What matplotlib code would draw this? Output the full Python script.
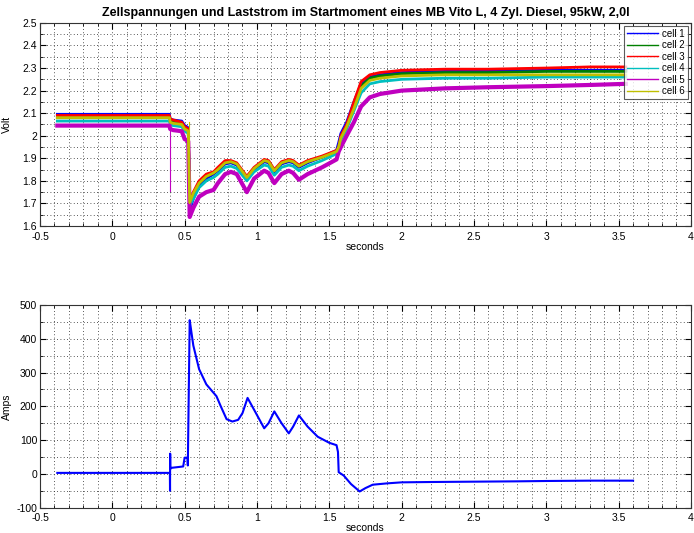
import numpy as np
import matplotlib.pyplot as plt
from matplotlib.ticker import MultipleLocator, FormatStrFormatter

plt.rcParams['font.family'] = ['Liberation Sans', 'DejaVu Sans']
plt.rcParams['axes.unicode_minus'] = False

# time points for the cell voltages (seconds)
t_v = [-0.38, 0.395, 0.40, 0.42, 0.48, 0.50, 0.515, 0.525, 0.535, 0.56, 0.60, 0.65,
       0.70, 0.73, 0.78, 0.82, 0.86, 0.93, 0.98, 1.05, 1.08, 1.12, 1.17, 1.22, 1.25,
       1.29, 1.35, 1.45, 1.55, 1.565, 1.58, 1.62, 1.67, 1.72, 1.78, 1.85, 2.0, 2.3,
       2.6, 3.0, 3.3, 3.55]

cell1 = [2.095, 2.095, 2.075, 2.07, 2.065, 2.045, 2.04, 2.035, 1.67, 1.72, 1.78, 1.81,
         1.83, 1.845, 1.875, 1.88, 1.87, 1.815, 1.85, 1.885, 1.88, 1.84, 1.875, 1.885, 1.88,
         1.86, 1.88, 1.905, 1.935, 1.97, 2.01, 2.06, 2.15, 2.23, 2.26, 2.27, 2.28, 2.285,
         2.285, 2.29, 2.29, 2.29]
cell2 = [2.08, 2.08, 2.065, 2.06, 2.055, 2.035, 2.03, 2.025, 1.70, 1.74, 1.79, 1.82,
         1.835, 1.85, 1.88, 1.885, 1.875, 1.815, 1.855, 1.89, 1.885, 1.845, 1.88, 1.89, 1.885,
         1.865, 1.885, 1.905, 1.93, 1.95, 1.99, 2.04, 2.13, 2.22, 2.255, 2.265, 2.275, 2.28,
         2.28, 2.285, 2.285, 2.285]
cell3 = [2.09, 2.09, 2.075, 2.07, 2.06, 2.04, 2.035, 2.03, 1.71, 1.75, 1.80, 1.83,
         1.84, 1.86, 1.89, 1.89, 1.88, 1.82, 1.86, 1.895, 1.89, 1.85, 1.885, 1.895, 1.89,
         1.87, 1.89, 1.91, 1.935, 1.95, 2.0, 2.05, 2.15, 2.24, 2.27, 2.28, 2.29, 2.295,
         2.295, 2.30, 2.305, 2.305]
cell4 = [2.065, 2.065, 2.05, 2.045, 2.04, 2.02, 2.015, 2.01, 1.69, 1.72, 1.77, 1.80,
         1.815, 1.83, 1.86, 1.865, 1.855, 1.80, 1.84, 1.87, 1.865, 1.825, 1.86, 1.87, 1.865,
         1.845, 1.865, 1.89, 1.92, 1.94, 1.98, 2.03, 2.11, 2.19, 2.23, 2.24, 2.25, 2.255,
         2.255, 2.26, 2.26, 2.26]
cell5 = [2.045, 2.045, 2.03, 2.025, 2.02, 1.985, 1.98, 1.975, 1.64, 1.68, 1.73, 1.75,
         1.76, 1.79, 1.83, 1.84, 1.83, 1.75, 1.81, 1.845, 1.835, 1.79, 1.83, 1.845, 1.835,
         1.805, 1.83, 1.86, 1.895, 1.93, 1.95, 2.0, 2.06, 2.13, 2.17, 2.185, 2.20, 2.21,
         2.215, 2.22, 2.225, 2.23]
cell6 = [2.08, 2.08, 2.06, 2.055, 2.05, 2.03, 2.025, 2.02, 1.705, 1.745, 1.79, 1.82,
         1.835, 1.85, 1.88, 1.885, 1.875, 1.815, 1.855, 1.89, 1.885, 1.845, 1.88, 1.89, 1.885,
         1.865, 1.885, 1.905, 1.93, 1.95, 1.99, 2.04, 2.12, 2.21, 2.245, 2.255, 2.265, 2.27,
         2.27, 2.27, 2.27, 2.27]

cells = [cell1, cell2, cell3, cell4, cell5, cell6]
cell_names = ['cell 1', 'cell 2', 'cell 3', 'cell 4', 'cell 5', 'cell 6']
cell_colors = ['#0000ff', '#008000', '#ff0000', '#00bfbf', '#bf00bf', '#bfbf00']

# single-sample spikes: time, low, high
spike5 = (0.398, 1.755, 2.03)
spike6 = (0.528, 1.70, 2.06)

# load current
t_i = [-0.38, 0.398, 0.399, 0.400, 0.401, 0.41, 0.45, 0.49, 0.50, 0.52, 0.522, 0.535,
       0.54, 0.56, 0.60, 0.65, 0.68, 0.72, 0.75, 0.79, 0.83, 0.87, 0.90, 0.935, 0.98,
       1.05, 1.08, 1.12, 1.17, 1.22, 1.25, 1.29, 1.35, 1.42, 1.50, 1.55, 1.56, 1.565,
       1.60, 1.65, 1.71, 1.75, 1.80, 1.90, 2.0, 2.2, 2.5, 2.8, 3.0, 3.3, 3.6]
amps = [3, 3, -50, 60, 15, 18, 20, 22, 48, 48, 25, 455,
        440, 380, 310, 265, 250, 230, 200, 162, 155, 160, 180, 225, 190,
        135, 150, 185, 150, 120, 140, 173, 140, 110, 92, 85, 65, 5,
        -5, -30, -52, -42, -32, -28, -25, -24, -23, -22, -21, -20, -20]


def style_axes(ax, major_y, minor_y):
    ax.xaxis.set_major_locator(MultipleLocator(0.5))
    ax.xaxis.set_minor_locator(MultipleLocator(0.1))
    ax.yaxis.set_major_locator(MultipleLocator(major_y))
    ax.yaxis.set_minor_locator(MultipleLocator(minor_y))
    ax.xaxis.set_major_formatter(FormatStrFormatter('%g'))
    ax.yaxis.set_major_formatter(FormatStrFormatter('%g'))
    ax.grid(True, which='both', color='#222222', linestyle=(0, (1, 3)), linewidth=0.6)
    ax.tick_params(which='both', direction='in', top=True, right=True, labelsize=7.5)
    ax.tick_params(axis='y', pad=2)
    ax.tick_params(axis='x', pad=4)
    ax.tick_params(which='major', length=4)
    ax.tick_params(which='minor', length=2)
    for s in ax.spines.values():
        s.set_color('#333333')
        s.set_linewidth(0.8)
    ax.set_xlim(-0.5, 4)


fig = plt.figure(figsize=(6.94, 5.33), dpi=100)
ax1 = fig.add_axes([0.0576, 0.576, 0.938, 0.381])
ax2 = fig.add_axes([0.0576, 0.0475, 0.938, 0.3803])

for vals, name, col in zip(cells, cell_names, cell_colors):
    lw = 3.0 if name == 'cell 5' else 2.0
    ax1.plot(t_v, vals, color=col, linewidth=lw, label=name)
ax1.plot([spike5[0], spike5[0]], spike5[1:], color=cell_colors[4], linewidth=0.8)
ax1.plot([spike6[0], spike6[0]], spike6[1:], color=cell_colors[5], linewidth=0.8)

style_axes(ax1, 0.1, 0.05)
ax1.set_ylim(1.6, 2.5)
ax1.set_ylabel('Volt', fontsize=7.5)
ax1.yaxis.set_label_coords(-0.043, 0.5)
ax1.set_xlabel('seconds', fontsize=7.5, labelpad=0)
ax1.set_title('Zellspannungen und Laststrom im Startmoment eines MB Vito L, 4 Zyl. Diesel, 95kW, 2,0l',
              fontsize=9, fontweight='bold', pad=5)
leg = ax1.legend(loc='upper right', fontsize=7, frameon=True, fancybox=False,
                 handlelength=3.2, handletextpad=0.4, borderaxespad=0.3,
                 labelspacing=0.15, borderpad=0.3)
leg.get_frame().set_edgecolor('#333333')
leg.get_frame().set_linewidth(0.8)
for h in leg.get_lines():
    h.set_linewidth(1.0)

ax2.plot(t_i, amps, color='#0000ff', linewidth=1.5)
style_axes(ax2, 100, 50)
ax2.set_ylim(-100, 500)
ax2.set_ylabel('Amps', fontsize=7.5)
ax2.yaxis.set_label_coords(-0.043, 0.5)
ax2.set_xlabel('seconds', fontsize=7.5, labelpad=0)

fig.savefig('out.png', dpi=100)
